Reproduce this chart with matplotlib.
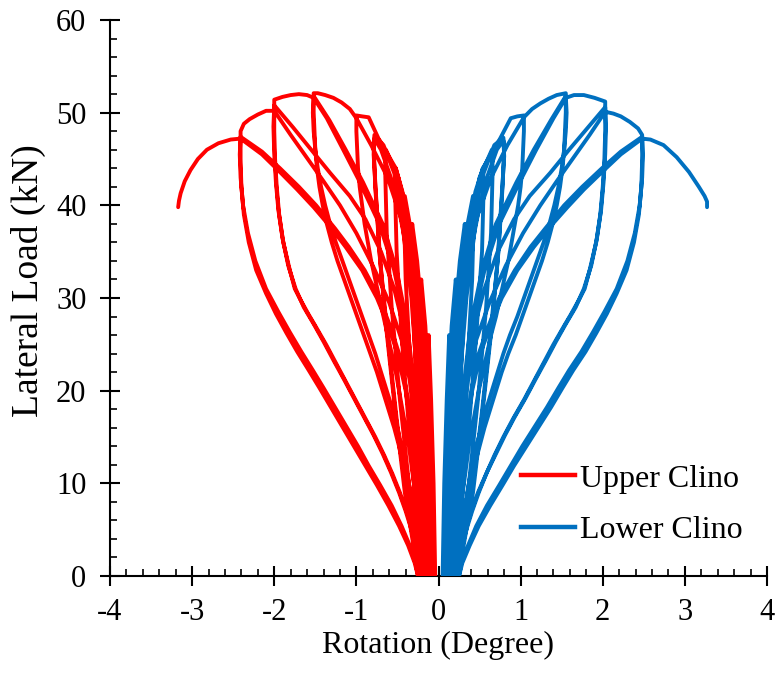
import matplotlib
matplotlib.use('Agg')
import matplotlib.pyplot as plt
from matplotlib.ticker import MultipleLocator
from matplotlib.lines import Line2D

# Each cycle: list of (rotation in degree, lateral load in kN).
# ---------------- Upper Clino (red) ----------------
upper_c01 = [(-0.04, 0), (-0.06, 10), (-0.09, 19), (-0.12, 26), (-0.13, 24), (-0.13, 17), (-0.12, 10), (-0.10, 4), (-0.08, 0)]
upper_c02 = [(-0.07, 0), (-0.09, 10), (-0.12, 20), (-0.16, 27), (-0.21, 32), (-0.23, 30), (-0.22, 23), (-0.19, 15),
             (-0.15, 7), (-0.11, 0)]
upper_c03 = [(-0.09, 0), (-0.11, 10), (-0.15, 20), (-0.20, 28), (-0.26, 34), (-0.32, 38), (-0.33, 36), (-0.31, 29),
             (-0.27, 21), (-0.21, 12), (-0.16, 5), (-0.13, 0)]
upper_c04 = [(-0.11, 0), (-0.13, 10), (-0.17, 20), (-0.23, 29), (-0.31, 36), (-0.41, 41), (-0.42, 39), (-0.40, 32),
             (-0.35, 24), (-0.28, 15), (-0.21, 6), (-0.16, 0)]
upper_c05 = [(-0.13, 0), (-0.15, 10), (-0.19, 20), (-0.25, 29), (-0.34, 37), (-0.44, 41.5), (-0.52, 44), (-0.53, 42),
             (-0.51, 35), (-0.45, 26), (-0.36, 16), (-0.27, 7), (-0.19, 0)]
upper_c06 = [(-0.14, 0), (-0.17, 10), (-0.21, 20), (-0.28, 30), (-0.37, 37.5), (-0.49, 43), (-0.64, 46), (-0.65, 44),
             (-0.63, 37), (-0.57, 29), (-0.47, 19), (-0.36, 10), (-0.26, 3), (-0.20, 0)]
upper_c07 = [(-0.15, 0), (-0.18, 10), (-0.23, 20), (-0.30, 30), (-0.41, 38.5), (-0.54, 43.5), (-0.67, 46.5),
             (-0.78, 47.6), (-0.79, 46.5), (-0.77, 42), (-0.72, 35), (-0.64, 27), (-0.53, 18), (-0.41, 9),
             (-0.30, 3), (-0.22, 0)]
upper_c08 = [(-0.17, 0), (-0.20, 10), (-0.25, 20), (-0.33, 30), (-0.44, 38), (-0.58, 43), (-0.70, 46), (-0.78, 47.2),
             (-0.79, 45.5), (-0.76, 41), (-0.71, 34), (-0.62, 26), (-0.51, 17), (-0.39, 8.5), (-0.29, 3), (-0.23, 0)]
upper_c09 = [(-0.18, 0), (-0.195, 10), (-0.22, 20), (-0.26, 28), (-0.32, 35), (-0.40, 40), (-0.52, 44), (-0.73, 47.2),
             (-0.85, 49.5), (-0.93, 49.6), (-1.00, 49.7),
             (-1.00, 48), (-0.99, 46), (-0.98, 44), (-0.96, 42), (-0.93, 40), (-0.90, 38), (-0.86, 36), (-0.82, 34),
             (-0.77, 32), (-0.72, 30), (-0.67, 28), (-0.62, 26), (-0.57, 24), (-0.52, 22), (-0.48, 20), (-0.44, 18),
             (-0.40, 16), (-0.36, 14), (-0.33, 12), (-0.30, 10), (-0.28, 8), (-0.26, 6), (-0.24, 4), (-0.23, 2),
             (-0.22, 0)]
upper_c10 = [(-0.19, 0), (-0.21, 10), (-0.245, 20), (-0.29, 27), (-0.36, 34), (-0.47, 39), (-0.62, 43), (-0.82, 46.5),
             (-1.00, 49.4), (-1.08, 50.4), (-1.18, 51.1), (-1.28, 51.6), (-1.38, 51.9), (-1.47, 52.1), (-1.52, 52.1),
             (-1.52, 50), (-1.51, 48), (-1.50, 46), (-1.48, 44), (-1.45, 42), (-1.41, 40), (-1.36, 38), (-1.30, 36),
             (-1.23, 34), (-1.15, 32), (-1.07, 30), (-0.99, 28), (-0.91, 26), (-0.83, 24), (-0.75, 22), (-0.68, 20),
             (-0.61, 18), (-0.54, 16), (-0.48, 14), (-0.43, 12), (-0.38, 10), (-0.34, 8), (-0.30, 6), (-0.27, 4),
             (-0.24, 2), (-0.22, 0)]
upper_c11 = [(-0.20, 0), (-0.21, 6), (-0.235, 12), (-0.29, 20), (-0.38, 27), (-0.51, 33), (-0.68, 38), (-0.92, 42.5),
             (-1.13, 46), (-1.33, 49.2), (-1.52, 51.8),
             (-1.53, 50), (-1.52, 48), (-1.50, 46), (-1.47, 44), (-1.43, 42), (-1.38, 40), (-1.32, 38), (-1.25, 36),
             (-1.17, 34), (-1.09, 32), (-1.01, 30), (-0.93, 28), (-0.85, 26), (-0.77, 24), (-0.70, 22), (-0.63, 20),
             (-0.56, 18), (-0.50, 16), (-0.45, 14), (-0.40, 12), (-0.36, 10), (-0.32, 8), (-0.28, 6), (-0.25, 4),
             (-0.23, 2), (-0.22, 0)]
upper_c12 = [(-0.20, 0), (-0.215, 6), (-0.24, 12), (-0.30, 20), (-0.40, 27), (-0.54, 33), (-0.72, 38), (-0.98, 42.9),
             (-1.16, 46), (-1.36, 49.4), (-1.52, 51.6), (-1.60, 51.9), (-1.70, 52.0), (-1.80, 51.9), (-1.90, 51.7),
             (-2.00, 51.4),
             (-2.00, 48), (-1.99, 45), (-1.97, 42), (-1.94, 39), (-1.89, 36), (-1.81, 33), (-1.75, 31), (-1.68, 29.8),
             (-1.58, 28.2), (-1.50, 27), (-1.37, 25), (-1.25, 23), (-1.16, 21.5), (-1.01, 19), (-0.89, 17),
             (-0.77, 15), (-0.66, 13), (-0.56, 11), (-0.47, 9), (-0.39, 7), (-0.32, 5), (-0.27, 3), (-0.24, 1),
             (-0.235, 0)]
upper_c13 = [(-0.21, 0), (-0.23, 8), (-0.28, 16), (-0.34, 22), (-0.43, 27), (-0.54, 31), (-0.70, 35), (-0.89, 38.5),
             (-1.08, 41), (-1.32, 43.5), (-1.55, 46), (-1.77, 48.4), (-2.00, 50.8),
             (-2.01, 48.5), (-2.00, 45.5), (-1.98, 42.5), (-1.95, 39.5), (-1.90, 36.5), (-1.83, 33.5), (-1.74, 31),
             (-1.64, 29), (-1.52, 27.2), (-1.40, 25.3), (-1.28, 23.3), (-1.15, 21.2), (-1.03, 19.2), (-0.91, 17.2),
             (-0.79, 15.2), (-0.68, 13.2), (-0.58, 11.2), (-0.48, 9), (-0.40, 7), (-0.33, 5), (-0.28, 3),
             (-0.25, 1), (-0.24, 0)]
upper_c14 = [(-0.21, 0), (-0.23, 6), (-0.26, 12), (-0.30, 17), (-0.35, 21.1), (-0.45, 25.5), (-0.60, 29.5),
             (-0.80, 33.5), (-1.00, 37), (-1.20, 40), (-1.40, 42.6), (-1.60, 45.1), (-1.80, 47.6), (-2.00, 50.2),
             (-2.10, 50.2), (-2.20, 49.8), (-2.30, 49.3), (-2.37, 48.8), (-2.41, 48.0),
             (-2.41, 45), (-2.40, 42), (-2.37, 39), (-2.31, 36), (-2.22, 33), (-2.10, 30.5), (-1.98, 28.3),
             (-1.85, 26.2), (-1.72, 24.2), (-1.58, 22.2), (-1.45, 20.3), (-1.31, 18.2), (-1.17, 16.1), (-1.03, 14),
             (-0.89, 11.9), (-0.75, 9.8), (-0.61, 7.6), (-0.48, 5.4), (-0.37, 3.3), (-0.29, 1.4), (-0.25, 0)]
upper_c15 = [(-0.21, 0), (-0.22, 4), (-0.24, 8), (-0.27, 12), (-0.32, 16), (-0.39, 20), (-0.48, 24), (-0.59, 27),
             (-0.72, 30), (-0.90, 33), (-1.09, 35.5), (-1.26, 37.5), (-1.49, 40), (-1.70, 42), (-1.93, 44),
             (-2.15, 45.8), (-2.41, 47.4),
             (-2.42, 45.5), (-2.41, 43), (-2.38, 40), (-2.32, 37), (-2.23, 34), (-2.10, 31), (-1.95, 28.5),
             (-1.81, 26.3), (-1.67, 24.2), (-1.53, 22.2), (-1.40, 20.3), (-1.26, 18.2), (-1.12, 16.1), (-0.98, 14),
             (-0.85, 11.9), (-0.71, 9.8), (-0.57, 7.6), (-0.45, 5.4), (-0.35, 3.3), (-0.28, 1.4), (-0.25, 0)]
upper_c16 = [(-0.21, 0), (-0.22, 4), (-0.245, 8), (-0.28, 12), (-0.33, 16), (-0.40, 20), (-0.50, 24), (-0.61, 27),
             (-0.75, 30), (-0.93, 33), (-1.13, 35.5), (-1.30, 37.5), (-1.52, 39.8), (-1.72, 41.7), (-1.92, 43.5),
             (-2.15, 45.5), (-2.41, 47.2), (-2.53, 47.1), (-2.68, 46.7), (-2.82, 46.0), (-2.93, 45.0),
             (-3.02, 43.8), (-3.09, 42.6), (-3.14, 41.3), (-3.16, 40.5), (-3.17, 39.8)]

# ---------------- Lower Clino (blue) ----------------
lower_c01 = [(0.05, 0), (0.07, 10), (0.10, 19), (0.13, 26), (0.14, 24), (0.14, 17), (0.13, 10), (0.11, 4), (0.09, 0)]
lower_c02 = [(0.07, 0), (0.09, 10), (0.12, 20), (0.16, 27), (0.21, 32), (0.23, 30), (0.22, 23), (0.19, 15),
             (0.15, 7), (0.11, 0)]
lower_c03 = [(0.09, 0), (0.11, 10), (0.15, 20), (0.20, 28), (0.26, 34), (0.32, 38), (0.33, 36), (0.31, 29),
             (0.27, 21), (0.21, 12), (0.16, 5), (0.13, 0)]
lower_c04 = [(0.11, 0), (0.13, 10), (0.17, 20), (0.23, 29), (0.31, 36), (0.42, 41), (0.43, 39), (0.41, 32),
             (0.36, 24), (0.28, 15), (0.21, 6), (0.16, 0)]
lower_c05 = [(0.13, 0), (0.15, 10), (0.19, 20), (0.25, 29), (0.35, 37), (0.45, 41.5), (0.54, 44), (0.55, 42),
             (0.53, 35), (0.46, 26), (0.37, 16), (0.27, 7), (0.19, 0)]
lower_c06 = [(0.14, 0), (0.17, 10), (0.21, 20), (0.28, 30), (0.38, 37.5), (0.50, 43), (0.65, 46), (0.66, 44),
             (0.64, 37), (0.58, 29), (0.48, 19), (0.37, 10), (0.26, 3), (0.20, 0)]
lower_c07 = [(0.15, 0), (0.18, 10), (0.23, 20), (0.31, 30), (0.42, 38.5), (0.55, 43.5), (0.68, 46.5), (0.79, 47.3),
             (0.80, 46.2), (0.78, 42), (0.73, 35), (0.65, 27), (0.54, 18), (0.42, 9), (0.30, 3), (0.22, 0)]
lower_c08 = [(0.17, 0), (0.20, 10), (0.25, 20), (0.34, 30), (0.45, 38), (0.59, 43), (0.71, 46), (0.79, 47.0),
             (0.80, 45.3), (0.77, 41), (0.72, 34), (0.63, 26), (0.52, 17), (0.40, 8.5), (0.29, 3), (0.23, 0)]
lower_c09 = [(0.18, 0), (0.195, 10), (0.22, 20), (0.27, 28), (0.33, 35), (0.42, 40), (0.54, 44), (0.75, 47.2),
             (0.88, 49.4), (0.96, 49.6), (1.04, 49.7),
             (1.04, 48), (1.03, 46), (1.02, 44), (1.00, 42), (0.97, 40), (0.93, 38), (0.89, 36), (0.85, 34),
             (0.80, 32), (0.75, 30), (0.70, 28), (0.64, 26), (0.59, 24), (0.54, 22), (0.49, 20), (0.45, 18),
             (0.41, 16), (0.37, 14), (0.34, 12), (0.31, 10), (0.28, 8), (0.26, 6), (0.24, 4), (0.23, 2), (0.22, 0)]
lower_c10 = [(0.19, 0), (0.21, 10), (0.25, 20), (0.30, 27), (0.37, 34), (0.48, 39), (0.64, 43), (0.84, 46.5),
             (1.04, 49.5), (1.14, 50.4), (1.24, 51.0), (1.34, 51.5), (1.44, 51.9), (1.55, 52.1),
             (1.55, 50), (1.54, 48), (1.53, 46), (1.51, 44), (1.48, 42), (1.44, 40), (1.39, 38), (1.33, 36),
             (1.26, 34), (1.18, 32), (1.10, 30), (1.02, 28), (0.94, 26), (0.85, 24), (0.77, 22), (0.70, 20),
             (0.63, 18), (0.56, 16), (0.50, 14), (0.44, 12), (0.39, 10), (0.35, 8), (0.31, 6), (0.27, 4),
             (0.24, 2), (0.22, 0)]
lower_c11 = [(0.20, 0), (0.21, 6), (0.24, 12), (0.30, 20), (0.39, 27), (0.53, 33), (0.70, 38), (0.95, 42.5),
             (1.16, 46), (1.37, 49.2), (1.55, 51.8),
             (1.56, 50), (1.55, 48), (1.53, 46), (1.50, 44), (1.46, 42), (1.41, 40), (1.35, 38), (1.28, 36),
             (1.20, 34), (1.12, 32), (1.04, 30), (0.96, 28), (0.87, 26), (0.79, 24), (0.72, 22), (0.65, 20),
             (0.58, 18), (0.52, 16), (0.46, 14), (0.41, 12), (0.37, 10), (0.33, 8), (0.29, 6), (0.26, 4),
             (0.23, 2), (0.22, 0)]
lower_c12 = [(0.20, 0), (0.215, 6), (0.25, 12), (0.31, 20), (0.41, 27), (0.56, 33), (0.74, 38), (1.01, 42.9),
             (1.19, 46), (1.40, 49.4), (1.55, 51.6), (1.65, 51.9), (1.77, 51.9), (1.90, 51.6), (2.03, 51.2),
             (2.03, 48), (2.02, 45), (2.00, 42), (1.97, 39), (1.92, 36), (1.84, 33), (1.78, 31), (1.71, 29.8),
             (1.61, 28.2), (1.53, 27), (1.40, 25), (1.28, 23), (1.19, 21.5), (1.04, 19), (0.91, 17), (0.79, 15),
             (0.68, 13), (0.58, 11), (0.48, 9), (0.40, 7), (0.33, 5), (0.28, 3), (0.25, 1), (0.24, 0)]
lower_c13 = [(0.21, 0), (0.23, 8), (0.28, 16), (0.35, 22), (0.44, 27), (0.56, 31), (0.72, 35), (0.92, 38.5),
             (1.11, 41), (1.36, 43.5), (1.59, 46), (1.81, 48.3), (2.03, 50.6),
             (2.04, 48.5), (2.03, 45.5), (2.01, 42.5), (1.98, 39.5), (1.93, 36.5), (1.86, 33.5), (1.77, 31),
             (1.67, 29), (1.55, 27.2), (1.43, 25.3), (1.31, 23.3), (1.18, 21.2), (1.06, 19.2), (0.93, 17.2),
             (0.81, 15.2), (0.70, 13.2), (0.59, 11.2), (0.49, 9), (0.41, 7), (0.34, 5), (0.28, 3), (0.25, 1),
             (0.24, 0)]
lower_c14 = [(0.21, 0), (0.23, 6), (0.26, 12), (0.31, 17), (0.36, 21.1), (0.46, 25.5), (0.62, 29.5), (0.82, 33.5),
             (1.03, 37), (1.24, 40), (1.44, 42.6), (1.64, 45.1), (1.84, 47.6), (2.03, 50.1), (2.13, 49.9),
             (2.22, 49.6), (2.33, 49.0), (2.43, 48.3), (2.48, 47.6),
             (2.48, 45), (2.47, 42), (2.44, 39), (2.38, 36), (2.29, 33), (2.17, 30.5), (2.05, 28.3), (1.92, 26.2),
             (1.79, 24.2), (1.64, 22.2), (1.51, 20.3), (1.37, 18.2), (1.22, 16.1), (1.07, 14), (0.92, 11.9),
             (0.78, 9.8), (0.63, 7.6), (0.49, 5.4), (0.38, 3.3), (0.29, 1.4), (0.25, 0)]
lower_c15 = [(0.21, 0), (0.22, 4), (0.24, 8), (0.28, 12), (0.33, 16), (0.40, 20), (0.49, 24), (0.61, 27),
             (0.74, 30), (0.93, 33), (1.12, 35.5), (1.30, 37.5), (1.53, 40), (1.75, 42), (1.99, 44), (2.22, 45.8),
             (2.48, 47.4),
             (2.49, 45.5), (2.48, 43), (2.45, 40), (2.39, 37), (2.30, 34), (2.17, 31), (2.02, 28.5), (1.88, 26.3),
             (1.74, 24.2), (1.59, 22.2), (1.46, 20.3), (1.32, 18.2), (1.17, 16.1), (1.02, 14), (0.88, 11.9),
             (0.74, 9.8), (0.59, 7.6), (0.46, 5.4), (0.36, 3.3), (0.28, 1.4), (0.25, 0)]
lower_c16 = [(0.22, 0), (0.23, 4), (0.25, 8), (0.29, 12), (0.34, 16), (0.41, 20), (0.51, 24), (0.63, 27),
             (0.77, 30), (0.96, 33), (1.16, 35.5), (1.34, 37.5), (1.57, 39.8), (1.77, 41.7), (1.98, 43.5),
             (2.22, 45.5), (2.48, 47.2), (2.58, 47.1), (2.74, 46.5), (2.90, 45.2), (3.05, 43.6), (3.17, 42.0),
             (3.24, 41.0), (3.27, 40.4), (3.27, 39.8)]

legend_labels = ["Upper Clino", "Lower Clino"]
x_ticks = [-4, -3, -2, -1, 0, 1, 2, 3, 4]
y_ticks = [0, 10, 20, 30, 40, 50, 60]

upper_cycles = [upper_c01, upper_c02, upper_c03, upper_c04, upper_c05, upper_c06, upper_c07, upper_c08,
                upper_c09, upper_c10, upper_c11, upper_c12, upper_c13, upper_c14, upper_c15, upper_c16]
lower_cycles = [lower_c01, lower_c02, lower_c03, lower_c04, lower_c05, lower_c06, lower_c07, lower_c08,
                lower_c09, lower_c10, lower_c11, lower_c12, lower_c13, lower_c14, lower_c15, lower_c16]


def join(cycles):
    xs, ys = [], []
    for cyc in cycles:
        for r, p in cyc:
            xs.append(r)
            ys.append(p)
    return xs, ys


plt.rcParams['font.family'] = ['Liberation Serif', 'DejaVu Serif']
RED = '#FF0000'
BLUE = '#0070C0'
LW = 2.8

fig = plt.figure(figsize=(7.77, 6.79), dpi=100)
ax = fig.add_axes([110 / 777, 1 - 576 / 679, 657 / 777, 556 / 679])

ux, uy = join(upper_cycles)
lx, ly = join(lower_cycles)
ax.plot(ux, uy, color=RED, lw=LW, solid_joinstyle='round', solid_capstyle='round', zorder=3)
ax.plot(lx, ly, color=BLUE, lw=LW, solid_joinstyle='round', solid_capstyle='round', zorder=3)

ax.set_xlim(-4, 4)
ax.set_ylim(0, 60)
ax.set_xticks(x_ticks)
ax.set_yticks(y_ticks)
ax.set_xticklabels([str(t) for t in x_ticks])
ax.xaxis.set_minor_locator(MultipleLocator(0.2))
ax.yaxis.set_minor_locator(MultipleLocator(2))

for s in ['top', 'right']:
    ax.spines[s].set_visible(False)
for s in ['left', 'bottom']:
    ax.spines[s].set_linewidth(1.5)
    ax.spines[s].set_color('black')

ax.tick_params(which='major', direction='inout', length=14, width=1.5, labelsize=22, colors='black')
ax.tick_params(axis='x', which='major', pad=9)
ax.tick_params(axis='y', which='major', pad=10)
ax.tick_params(which='minor', direction='in', length=5, width=1.2)

ax.set_xlabel('Rotation (Degree)', fontsize=23, labelpad=3)
ax.set_ylabel('Lateral Load (kN)', fontsize=27)
ax.yaxis.set_label_coords(-0.097, 0.532)

handles = [Line2D([], [], color=RED, lw=3.2), Line2D([], [], color=BLUE, lw=3.2)]
ax.legend(handles, legend_labels, loc='upper left', bbox_to_anchor=(0.625, 0.201), frameon=False,
          fontsize=23, handlelength=1.7, handletextpad=0.15, labelspacing=0.7, borderpad=0, borderaxespad=0)

fig.savefig('out.png', dpi=100)
